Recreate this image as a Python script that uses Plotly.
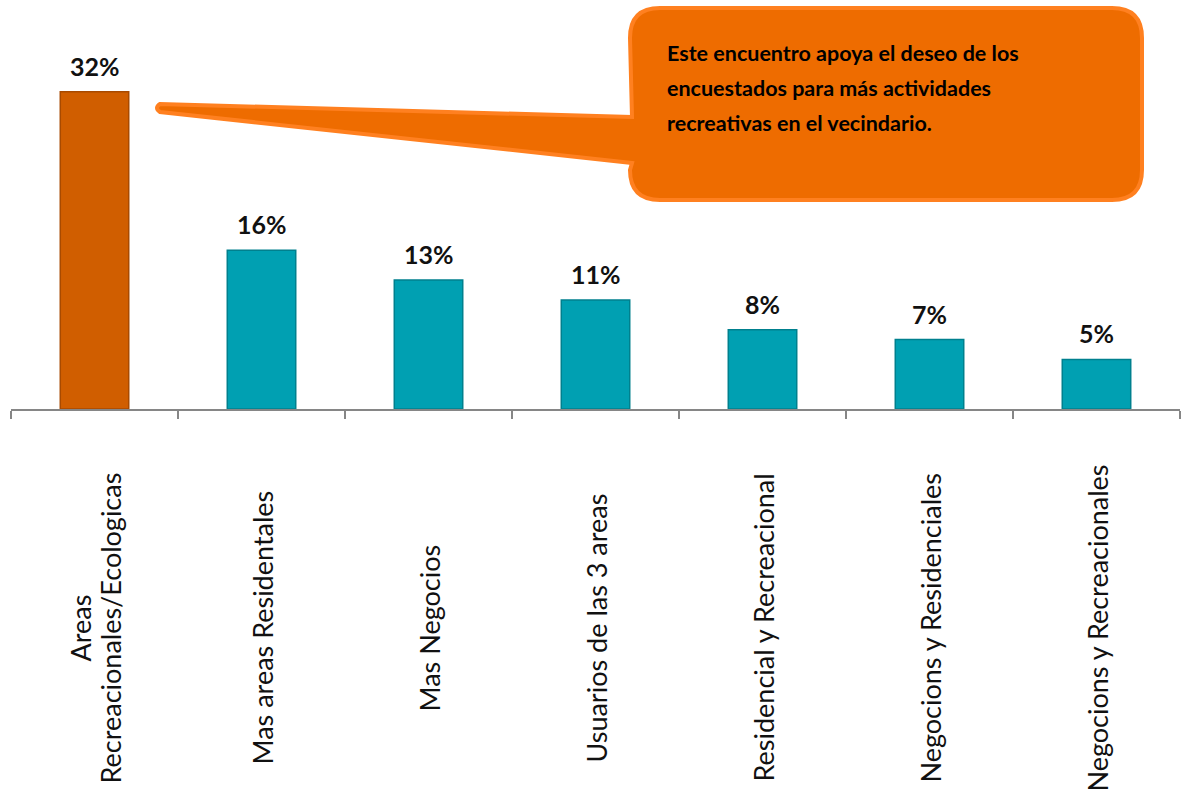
import plotly.graph_objects as go

# Survey results: preferred type of development
categories = [
    "Areas<br>Recreacionales/Ecologicas",
    "Mas areas Residentales",
    "Mas Negocios",
    "Usuarios de las 3 areas",
    "Residencial y Recreacional",
    "Negocions y Residenciales",
    "Negocions y Recreacionales",
]
values = [32, 16, 13, 11, 8, 7, 5]
value_labels = ["32%", "16%", "13%", "11%", "8%", "7%", "5%"]
bar_colors = ["#D05E00", "#00A0B2", "#00A0B2", "#00A0B2", "#00A0B2", "#00A0B2", "#00A0B2"]
edge_colors = ["#A84A00", "#00808E", "#00808E", "#00808E", "#00808E", "#00808E", "#00808E"]
callout_lines = [
    "Este encuentro apoya el deseo de los",
    "encuestados para más actividades",
    "recreativas en el vecindario.",
]

W, H = 1186, 797
ML, MR, MT, MB = 11, 6, 62, 388
PW, PH = W - ML - MR, H - MT - MB


def px(x):
    return (x - ML) / PW


def py(y):
    return (H - MB - y) / PH


n = len(categories)
fig = go.Figure()
fig.add_trace(go.Bar(
    x=list(range(n)),
    y=values,
    width=0.41,
    marker=dict(color=bar_colors, line=dict(color=edge_colors, width=1.5)),
    hoverinfo="skip",
))

annotations = []
for i, (v, t) in enumerate(zip(values, value_labels)):
    annotations.append(dict(
        x=i, y=v, xref="x", yref="y", text=t, showarrow=False,
        yshift=26, yanchor="middle",
        font=dict(family="Lato", size=25, color="#111111", weight="bold"),
    ))

# Rotated category labels, each line placed separately for tight spacing
label_line_gap = 30 / PW * n  # in category units
for i, c in enumerate(categories):
    lines = c.split("<br>")
    k = len(lines)
    for j, ln in enumerate(lines):
        annotations.append(dict(
            x=i + (j - (k - 1) / 2) * label_line_gap, y=py(628),
            xref="x", yref="paper", text=ln, showarrow=False,
            textangle=-90, xanchor="center", yanchor="middle",
            font=dict(family="Lato", size=27, color="#111111"),
        ))

# Callout box with pointer toward the first bar
x0, x1, y0, y1, r = 630, 1142, 8, 200, 30
tail_top, tail_bot = 117, 163
tip_x, tip_top, tip_bot = 157, 104, 112


def P(x, y):
    return f"{px(x):.5f},{py(y):.5f}"


path = (
    f"M {P(x0 + r, y0)} L {P(x1 - r, y0)} Q {P(x1, y0)} {P(x1, y0 + r)} "
    f"L {P(x1, y1 - r)} Q {P(x1, y1)} {P(x1 - r, y1)} "
    f"L {P(x0 + r, y1)} Q {P(x0, y1)} {P(x0, y1 - r)} "
    f"L {P(x0 + 2, tail_bot)} L {P(tip_x + 3, tip_bot)} "
    f"Q {P(tip_x - 3, (tip_top + tip_bot) / 2)} {P(tip_x + 3, tip_top)} "
    f"L {P(x0 + 2, tail_top)} L {P(x0, y0 + r)} Q {P(x0, y0)} {P(x0 + r, y0)} Z"
)
shapes = [dict(
    type="path", xref="paper", yref="paper", path=path,
    fillcolor="#EE6C00", line=dict(color="#FF8020", width=4), layer="above",
)]

for j, ln in enumerate(callout_lines):
    annotations.append(dict(
        x=px(665), y=py(53 + 35 * j), xref="paper", yref="paper", text=ln,
        showarrow=False, xanchor="left", yanchor="middle", align="left",
        font=dict(family="Lato", size=21.5, color="#000000", weight="bold"),
    ))

fig.update_layout(
    width=W, height=H,
    margin=dict(l=ML, r=MR, t=MT, b=MB),
    paper_bgcolor="white", plot_bgcolor="white",
    showlegend=False,
    annotations=annotations,
    shapes=shapes,
    xaxis=dict(
        range=[-0.5, n - 0.5],
        tickmode="array", tickvals=[i - 0.5 for i in range(n + 1)],
        ticktext=[""] * (n + 1),
        ticks="outside", ticklen=8, tickwidth=2,
        tickcolor="#868686", showline=True, linecolor="#868686", linewidth=2,
        showgrid=False, zeroline=False,
    ),
    yaxis=dict(range=[0, 35], visible=False, showgrid=False, zeroline=False),
)

fig.write_html("out.html")
